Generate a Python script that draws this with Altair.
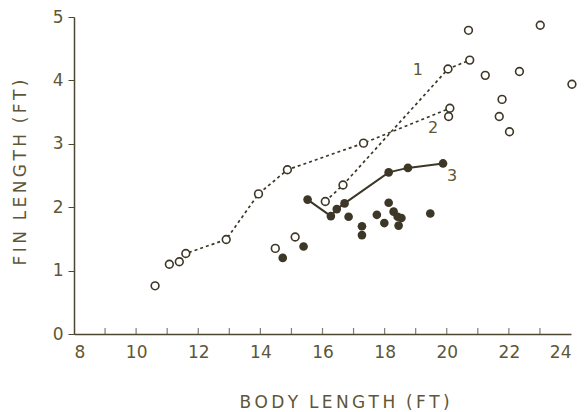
import altair as alt
import pandas as pd

# Curve 1 (dashed, open circles)
c1_x = [16.09, 16.66, 20.04, 20.74]
c1_y = [2.09, 2.35, 4.18, 4.32]
# Curve 2 (dashed, open circles)
c2_x = [11.07, 11.39, 11.60, 12.90, 13.94, 14.87, 17.32, 20.10]
c2_y = [1.10, 1.14, 1.27, 1.49, 2.21, 2.59, 3.01, 3.56]
# Curve 3 (solid, filled circles)
c3_x = [15.52, 16.27, 16.46, 16.71, 18.13, 18.75, 19.88]
c3_y = [2.12, 1.86, 1.97, 2.06, 2.55, 2.62, 2.69]
# Other open circles
open_x = [10.61, 14.48, 15.12, 20.06, 20.70, 23.01, 21.24, 22.34, 24.03, 21.78, 21.69, 22.02]
open_y = [0.76, 1.35, 1.53, 3.43, 4.79, 4.87, 4.08, 4.14, 3.94, 3.70, 3.43, 3.19]
# Other filled circles
fill_x = [14.72, 15.39, 16.84, 17.27, 17.27, 17.75, 17.99, 18.13, 18.29, 18.42, 18.54, 18.45, 19.47]
fill_y = [1.20, 1.38, 1.85, 1.70, 1.56, 1.88, 1.75, 2.07, 1.93, 1.85, 1.83, 1.71, 1.90]
# Curve labels
lab_text = ["1", "2", "3"]
lab_x = [19.07, 19.56, 20.17]
lab_y = [4.17, 3.25, 2.50]
# Axis ticks
x_labels = [8, 10, 12, 14, 16, 18, 20, 22, 24]
x_ticks = list(range(9, 24))
y_ticks = [0, 1, 2, 3, 4, 5]
x_title = "BODY LENGTH (FT)"
y_title = "FIN LENGTH (FT)"

INK = "#3d3727"
AX = "#4d4632"
TXT = "#5e5638"
FONT = "DejaVu Sans"


def spaced(s):
    words = s.split(" ")
    return "\u00a0\u00a0".join("\u2009".join(w) for w in words)


xs = alt.Scale(domain=[8, 24], nice=False, zero=False)
ys = alt.Scale(domain=[0, 5], nice=False)

df1 = pd.DataFrame({"x": c1_x, "y": c1_y})
df2 = pd.DataFrame({"x": c2_x, "y": c2_y})
df3 = pd.DataFrame({"x": c3_x, "y": c3_y})
dfo = pd.DataFrame({"x": open_x, "y": open_y})
dff = pd.DataFrame({"x": fill_x, "y": fill_y})
dfl = pd.DataFrame({"x": lab_x, "y": lab_y, "t": lab_text})
dft = pd.DataFrame({"x": x_ticks, "y": [0] * len(x_ticks)})

X = alt.X("x:Q", scale=xs, axis=alt.Axis(
    values=x_labels, format="d", ticks=False, grid=False, domainColor=AX, domainWidth=1.5,
    labelFont=FONT, labelFontSize=17, labelColor=TXT, labelPadding=10,
    title=spaced(x_title), titleFont=FONT, titleFontSize=17, titleFontWeight="normal",
    titleColor=TXT, titleX=270, titleY=68, titleAlign="center", titleBaseline="middle"))
Y = alt.Y("y:Q", scale=ys, axis=alt.Axis(
    values=y_ticks, format="d", grid=False, domainColor=AX, domainWidth=1.5, tickColor=AX, tickSize=6,
    labelFont=FONT, labelFontSize=17, labelColor=TXT, labelPadding=5,
    title=spaced(y_title), titleFont=FONT, titleFontSize=17, titleFontWeight="normal",
    titleColor=TXT, titleX=-54, titleY=155, titleAngle=270, titleAlign="center",
    titleBaseline="middle"))

base_x = alt.X("x:Q", scale=xs)
base_y = alt.Y("y:Q", scale=ys)

ticks = alt.Chart(dft).mark_tick(orient="vertical", size=6, thickness=1.2, color=AX, yOffset=-3).encode(X, Y)

line1 = alt.Chart(df1).mark_line(color=INK, strokeWidth=1.7, strokeDash=[3, 3]).encode(base_x, base_y)
line2 = alt.Chart(df2).mark_line(color=INK, strokeWidth=1.7, strokeDash=[3, 3]).encode(base_x, base_y)
line3 = alt.Chart(df3).mark_line(color=INK, strokeWidth=2).encode(base_x, base_y)

open_style = dict(shape="circle", filled=True, fill="white", stroke=INK, strokeWidth=1.6, size=60, opacity=1)
pts1 = alt.Chart(df1).mark_point(**open_style).encode(base_x, base_y)
pts2 = alt.Chart(df2).mark_point(**open_style).encode(base_x, base_y)
ptso = alt.Chart(dfo).mark_point(**open_style).encode(base_x, base_y)
fill_style = dict(shape="circle", filled=True, color=INK, size=75, opacity=1)
pts3 = alt.Chart(df3).mark_point(**fill_style).encode(base_x, base_y)
ptsf = alt.Chart(dff).mark_point(**fill_style).encode(base_x, base_y)

labels = alt.Chart(dfl).mark_text(font=FONT, fontSize=16, color=TXT).encode(base_x, base_y, text="t:N")

chart = alt.layer(ticks, line1, line2, line3, pts1, pts2, ptso, pts3, ptsf, labels).properties(
    width=497, height=317,
    autosize=alt.AutoSizeParams(type="none"),
    padding={"left": 66, "top": 9, "right": 7, "bottom": 78},
    background="white",
).configure_view(stroke=None)

chart.save("out.html", embed_options={"renderer": "svg", "actions": False})
